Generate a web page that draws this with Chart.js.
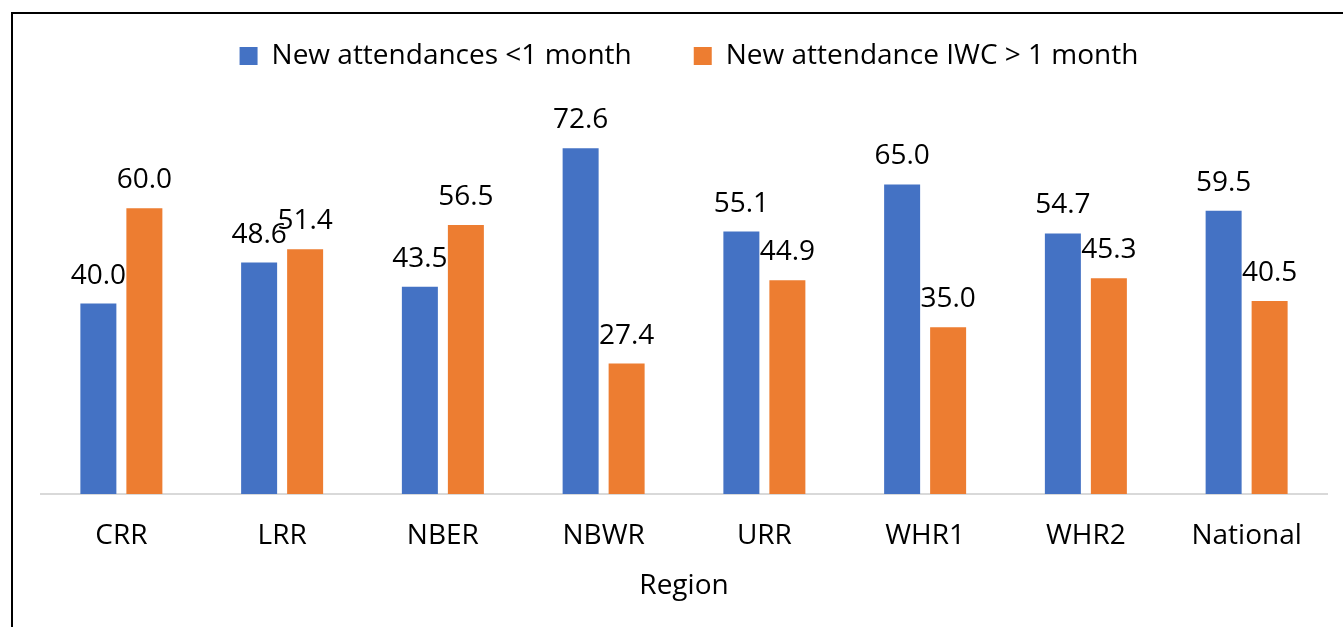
<!DOCTYPE html>
<html><head><meta charset="utf-8">
<script src="https://cdn.jsdelivr.net/npm/chart.js@4"></script>
<style>
html,body{margin:0;padding:0;overflow:hidden;background:#fff;width:1343px;height:627px;}
#frame{position:absolute;left:11px;top:12px;width:1400px;height:700px;border-left:2px solid #000;border-top:2px solid #000;pointer-events:none;z-index:2}
#c{position:absolute;left:0;top:-20px;}
</style></head><body>
<div id="frame"></div>
<canvas id="c" width="1378" height="623"></canvas>
<script>
const categories = ['CRR','LRR','NBER','NBWR','URR','WHR1','WHR2','National'];
const seriesNames = ['New attendances <1 month','New attendance IWC > 1 month'];
const under1Month = [40.0,48.6,43.5,72.6,55.1,65.0,54.7,59.5];
const over1Month = [60.0,51.4,56.5,27.4,44.9,35.0,45.3,40.5];
const axisTitle = 'Region';
const colors = ['#4472C4','#ED7D31'];

const FONT = "'Open Sans', sans-serif";

const valueLabels = {
  id:'valueLabels',
  afterDatasetsDraw(chart){
    const ctx = chart.ctx;
    ctx.save();
    ctx.font = "28px " + FONT;
    ctx.fillStyle = '#000';
    ctx.textAlign = 'center';
    ctx.textBaseline = 'alphabetic';
    chart.data.datasets.forEach((ds,di)=>{
      chart.getDatasetMeta(di).data.forEach((bar,i)=>{
        ctx.fillText(ds.data[i].toFixed(1), bar.x, bar.y - 20);
      });
    });
    ctx.restore();
  }
};

function draw(){
  Chart.defaults.font.family = FONT;
  Chart.defaults.color = '#000';
  new Chart(document.getElementById('c'), {
    type:'bar',
    data:{
      labels:categories,
      datasets:[
        {label:seriesNames[0], data:under1Month, backgroundColor:colors[0], categoryPercentage:0.5723, barPercentage:0.7826},
        {label:seriesNames[1], data:over1Month, backgroundColor:colors[1], categoryPercentage:0.5723, barPercentage:0.7826}
      ]
    },
    options:{
      responsive:false,
      animation:false,
      devicePixelRatio:1,
      layout:{padding:{left:41,right:41,top:0,bottom:0}},
      plugins:{
        legend:{
          position:'top',
          labels:{boxWidth:18, boxHeight:18, padding:62, color:'#000', font:{size:28, family:FONT}}
        },
        tooltip:{enabled:false}
      },
      scales:{
        x:{
          position:'bottom',
          grid:{display:false, drawTicks:false},
          border:{display:true, color:'#d9d9d9', width:2},
          ticks:{padding:25, color:'#000', font:{size:28, family:FONT}},
          title:{display:true, text:axisTitle, color:'#000', font:{size:28, family:FONT}, padding:{top:16.6, bottom:0}},
          afterFit(s){ s.height = 109; }
        },
        xTop:{
          type:'category',
          position:'top',
          display:true,
          grid:{display:false, drawTicks:false},
          border:{display:false},
          ticks:{display:false},
          afterFit(s){ s.height = 33; }
        },
        y:{
          position:'right',
          min:0, max:80,
          display:true,
          grid:{display:false, drawTicks:false},
          border:{display:false},
          ticks:{display:false},
          afterFit(s){ s.width = 10; }
        }
      }
    },
    plugins:[valueLabels]
  });
}
document.fonts.load("28px 'Open Sans'").then(draw, draw);
</script>
</body></html>
